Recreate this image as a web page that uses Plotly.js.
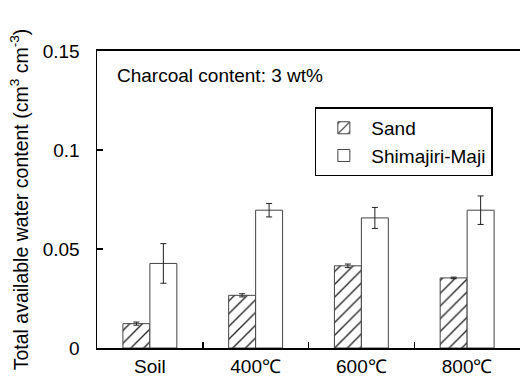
<!DOCTYPE html>
<html>
<head>
<meta charset="utf-8">
<script src="https://cdn.plot.ly/plotly-3.0.1.min.js"></script>
<style>html,body{margin:0;padding:0;background:#fff;}#chart{width:520px;height:381px;}</style>
</head>
<body>
<div id="chart"></div>
<script>
const categories = ["Soil", "400℃", "600℃", "800℃"];
const sandValues = [0.0123, 0.0266, 0.0415, 0.0354];
const sandErrors = [0.0008, 0.0008, 0.0009, 0.0004];
const shimajiriValues = [0.0427, 0.0696, 0.0657, 0.0696];
const shimajiriErrors = [0.0100, 0.0034, 0.0053, 0.0072];
const yTickValues = [0, 0.05, 0.1, 0.15];
const yTickLabels = ["0", "0.05", "0.1", "0.15"];

const FONT = '"Liberation Sans", Arial, Helvetica, sans-serif';
const FS = 19;

const traces = [
  {
    type: 'bar', name: 'Sand', x: categories, y: sandValues,
    marker: {color: 'white', line: {color: '#444', width: 1},
      pattern: {shape: '/', fgcolor: '#222', bgcolor: 'white', size: 9, solidity: 0.15}},
    error_y: {type: 'data', array: sandErrors, visible: true, color: '#222', thickness: 1, width: 3}
  },
  {
    type: 'bar', name: 'Shimajiri-Maji', x: categories, y: shimajiriValues,
    marker: {color: 'white', line: {color: '#444', width: 1}},
    error_y: {type: 'data', array: shimajiriErrors, visible: true, color: '#222', thickness: 1, width: 3}
  }
];

const layout = {
  width: 520, height: 381,
  margin: {l: 97, r: 0, t: 51, b: 33, pad: 0},
  paper_bgcolor: 'white', plot_bgcolor: 'white',
  font: {family: FONT, size: FS, color: 'black'},
  barmode: 'group', bargap: 0.49, bargroupgap: 0,
  showlegend: true,
  legend: {x: 0.515, y: 0.81, xanchor: 'left', yanchor: 'top',
    bgcolor: 'white', bordercolor: 'black', borderwidth: 1.5, itemwidth: 45,
    font: {family: FONT, size: FS, color: 'black'}, tracegroupgap: 0},
  xaxis: {type: 'category', range: [-0.5, 3.5], showgrid: false, zeroline: false,
    showline: true, linecolor: 'black', linewidth: 2, mirror: true,
    ticks: 'inside', tickson: 'boundaries', ticklen: 6, tickwidth: 1.5, tickcolor: 'black',
    tickfont: {family: FONT, size: FS, color: 'black'}, fixedrange: true},
  yaxis: {range: [0, 0.15], tickvals: yTickValues, ticktext: yTickLabels,
    showgrid: false, zeroline: false, showline: true, linecolor: 'black', linewidth: 1.5,
    ticks: 'inside', ticklen: 6, tickwidth: 1.5, tickcolor: 'black', ticklabelstandoff: 12,
    tickfont: {family: FONT, size: FS, color: 'black'},
    title: {text: 'Total available water content (cm<sup>3</sup> cm<sup>-3</sup>)',
      font: {family: FONT, size: 19.5, color: 'black'}, standoff: 9}, fixedrange: true},
  annotations: [{
    text: 'Charcoal content: 3 wt%', xref: 'paper', yref: 'paper',
    x: 0.0426, y: 0.916, xanchor: 'left', yanchor: 'middle', showarrow: false,
    font: {family: FONT, size: FS, color: 'black'}
  }]
};

Plotly.newPlot('chart', traces, layout, {displayModeBar: false, staticPlot: true});
</script>
</body>
</html>
